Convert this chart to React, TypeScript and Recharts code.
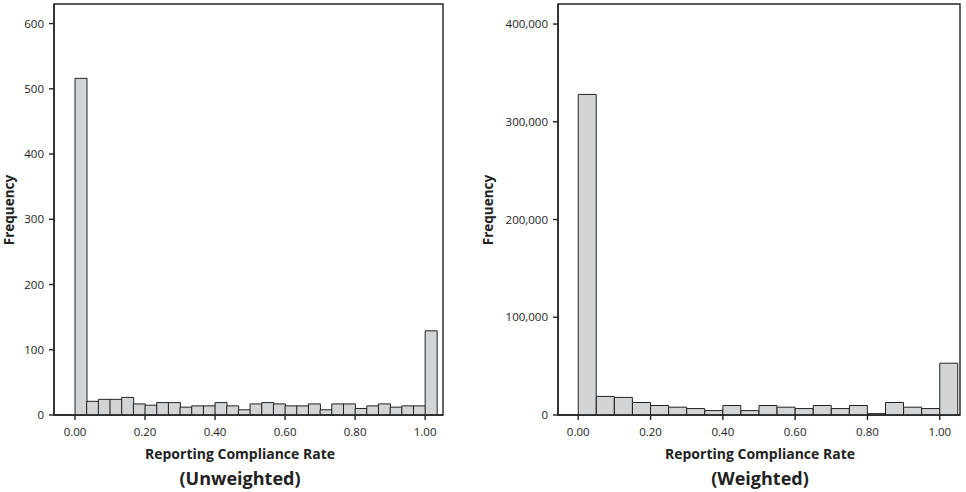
import { BarChart, Bar, XAxis, YAxis, ReferenceArea } from 'recharts'

// Unweighted: 30 bins of 1/30 on [0,1] plus one bin just above 1.00
const UNWEIGHTED_BIN = 1 / 30
const unweightedCounts = [
  516, 21, 24, 24, 27, 17, 15, 19, 19, 12, 14, 14, 19, 14, 8, 17,
  19, 17, 14, 14, 17, 8, 17, 17, 10, 14, 17, 12, 14, 14, 129,
]
const unweightedYTicks = [0, 100, 200, 300, 400, 500, 600]

// Weighted: 20 bins of 0.05 on [0,1] plus one bin above 1.00
const WEIGHTED_BIN = 0.05
const weightedCounts = [
  328000, 19000, 18000, 12800, 9700, 8000, 6600, 4500, 9700, 4500, 9700,
  8000, 6600, 9700, 6600, 9700, 1400, 12800, 8000, 6600, 53000,
]
const weightedYTicks = [0, 100000, 200000, 300000, 400000]

const xTicks = [0, 0.2, 0.4, 0.6, 0.8, 1.0]

const FONT = '"Open Sans", sans-serif'
const INK = '#222'

const toBins = (counts: number[], width: number) =>
  counts.map((count, i) => ({ mid: (i + 0.5) * width, count }))

type HistProps = {
  counts: number[]
  binWidth: number
  yTicks: number[]
  yMax: number
  xDomain: [number, number]
  width: number
  yAxisWidth: number
  marginRight: number
  fmtY: (v: number) => string
}

function Histogram({ counts, binWidth, yTicks, yMax, xDomain, width, yAxisWidth, marginRight, fmtY }: HistProps) {
  const data = toBins(counts, binWidth)
  const tick = { fontSize: 11.5, fill: INK, fontFamily: FONT }
  return (
    <BarChart
      width={width}
      height={492}
      data={data}
      margin={{ top: 4, right: marginRight, bottom: 46, left: 0 }}
      barCategoryGap={0}
      barGap={0}
    >
      <XAxis
        dataKey="mid"
        type="number"
        domain={xDomain}
        ticks={xTicks}
        tickFormatter={(v) => Number(v).toFixed(2)}
        allowDataOverflow
        height={31}
        tick={tick}
        tickSize={5}
        tickMargin={8}
        axisLine={{ stroke: INK, strokeWidth: 1.4 }}
        tickLine={{ stroke: INK, strokeWidth: 1.4 }}
      />
      <YAxis
        type="number"
        domain={[0, yMax]}
        ticks={yTicks}
        tickFormatter={fmtY}
        allowDataOverflow
        width={yAxisWidth}
        tick={tick}
        tickSize={5}
        tickMargin={5}
        axisLine={{ stroke: INK, strokeWidth: 1.4 }}
        tickLine={{ stroke: INK, strokeWidth: 1.4 }}
      />
      <ReferenceArea
        x1={xDomain[0]}
        x2={xDomain[1]}
        y1={0}
        y2={yMax}
        fill="none"
        stroke={INK}
        strokeWidth={1.4}
      />
      <Bar dataKey="count" fill="#d3d4d6" stroke={INK} strokeWidth={1} isAnimationActive={false} />
    </BarChart>
  )
}

const titleStyle = (x: number, y: number, size: number): React.CSSProperties => ({
  position: 'absolute',
  left: x,
  top: y,
  transform: 'translate(-50%, -50%)',
  fontFamily: FONT,
  fontWeight: 700,
  fontSize: size,
  color: INK,
  whiteSpace: 'nowrap',
  lineHeight: 1,
})

const freqStyle = (x: number, y: number): React.CSSProperties => ({
  ...titleStyle(x, y, 13.5),
  transform: 'translate(-50%, -50%) rotate(-90deg)',
})

export default function App() {
  return (
    <div style={{ position: 'absolute', left: 0, top: 0, width: 966, height: 492, background: '#fff' }}>
      <div style={{ position: 'absolute', left: 0, top: 0 }}>
        <Histogram
          counts={unweightedCounts}
          binWidth={UNWEIGHTED_BIN}
          yTicks={unweightedYTicks}
          yMax={630}
          xDomain={[-0.06, 1.051]}
          width={480}
          yAxisWidth={54}
          marginRight={37}
          fmtY={(v) => String(v)}
        />
      </div>
      <div style={{ position: 'absolute', left: 480, top: 0 }}>
        <Histogram
          counts={weightedCounts}
          binWidth={WEIGHTED_BIN}
          yTicks={weightedYTicks}
          yMax={420500}
          xDomain={[-0.056, 1.056]}
          width={486}
          yAxisWidth={78}
          marginRight={6}
          fmtY={(v) => v.toLocaleString('en-US')}
        />
      </div>
      <div style={freqStyle(10, 210)}>Frequency</div>
      <div style={freqStyle(489, 210)}>Frequency</div>
      <div style={titleStyle(240, 454, 14)}>Reporting Compliance Rate</div>
      <div style={titleStyle(760, 454, 14)}>Reporting Compliance Rate</div>
      <div style={titleStyle(240, 478, 18)}>(Unweighted)</div>
      <div style={titleStyle(760, 478, 18)}>(Weighted)</div>
    </div>
  )
}
